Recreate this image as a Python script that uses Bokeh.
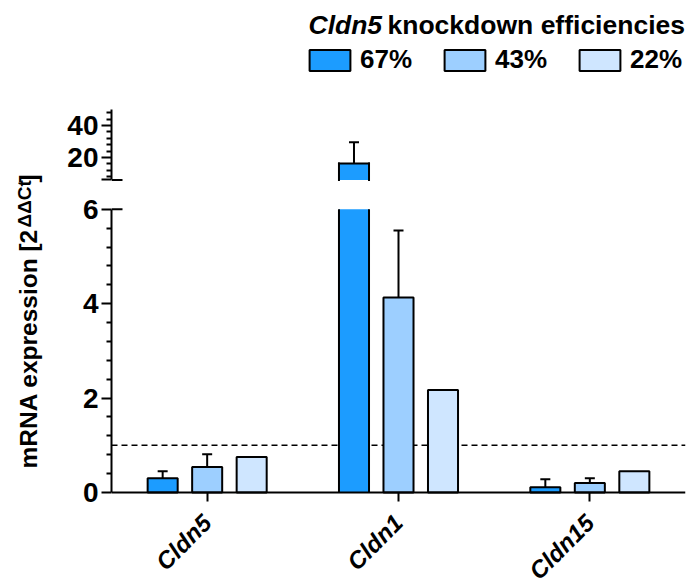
from math import pi
from bokeh.plotting import figure
from bokeh.models import (ColumnDataSource, FactorRange, Range1d, FixedTicker,
                          Span, Label, Legend, LegendItem)
from bokeh.transform import dodge
from bokeh.layouts import row, column
from bokeh.embed import file_html
from bokeh.resources import INLINE

# ---------------- data ----------------
genes = ["Cldn5", "Cldn1", "Cldn15"]
series = ["67%", "43%", "22%"]
kd67 = [0.30, 16.3, 0.11]
kd67_err = [0.15, 13.2, 0.17]
kd43 = [0.54, 4.13, 0.20]
kd43_err = [0.27, 1.42, 0.10]
kd22 = [0.75, 2.17, 0.45]
kd22_err = None
reference_level = 1.0
lower_ticks = [0, 2, 4, 6]
lower_minor = [0.4, 0.8, 1.2, 1.6, 2.4, 2.8, 3.2, 3.6, 4.4, 4.8, 5.2, 5.6]
upper_ticks = [6, 20, 40]
upper_minor = [8, 12, 16, 24, 28, 32, 36, 44, 48]
break_value = 6
upper_top = 50
title_italic = "Cldn5"
title_rest = "knockdown efficiencies"
ylabel_main = "mRNA expression [2"
ylabel_sup = "ΔΔCt"
ylabel_end = "]"

# ---------------- style ----------------
FONT = "Liberation Sans"
fills = ["#1C9CFF", "#9DCFFF", "#CFE6FF"]
offsets = [-0.2326, 0.0, 0.2326]
bar_w = 0.157
W = 644
UP_LO, UP_HI = -3.75, 118.125     # upper panel y range (frame = whole canvas)
LO_LO, LO_HI = -1.970, 6.292      # lower panel y range (frame = whole canvas)
LINE = dict(line_color="black", line_width=2)

xr = FactorRange(factors=genes)

common = dict(width=W, x_range=xr, output_backend="svg", toolbar_location=None,
              min_border_left=66, min_border_right=4, min_border_top=0,
              min_border_bottom=0,
              outline_line_color=None, background_fill_color="white",
              border_fill_color="white")

up = figure(height=195, y_range=Range1d(UP_LO, UP_HI), x_axis_location=None, **common)
lo = figure(height=390, y_range=Range1d(LO_LO, LO_HI), **common)

lo.add_layout(Span(location=reference_level, dimension="width", line_color="black",
                   line_width=1.6, line_dash="6 4", level="underlay"))


def whiskers(f, src, xc):
    f.segment(x0=xc, y0="top", x1=xc, y1="upper", source=src, **LINE)
    f.scatter(x=xc, y="upper", source=src, marker="dash", size=10, **LINE)


all_series = [(kd67, kd67_err), (kd43, kd43_err), (kd22, kd22_err)]
legend_renderers = []
for i, (vals, errs) in enumerate(all_series):
    off = offsets[i]
    xc = dodge("gene", off, range=xr)
    xl = dodge("gene", off - bar_w / 2, range=xr)
    xrt = dodge("gene", off + bar_w / 2, range=xr)
    ups = [v + e for v, e in zip(vals, errs)] if errs is not None else None
    tall = [v > break_value for v in vals]

    def pick(seq, flag):
        return [s for s, t in zip(seq, tall) if t == flag]

    # bars that fit below the break: drawn whole in the lower panel
    s_fit = ColumnDataSource(dict(gene=pick(genes, False), top=pick(vals, False)))
    lo.vbar(x=xc, top="top", bottom=0, width=bar_w, source=s_fit,
            fill_color=fills[i], **LINE)
    if ups is not None:
        s_fit.data["upper"] = pick(ups, False)
        whiskers(lo, s_fit, xc)

    # bars that cross the break: open-ended in both panels
    s_cut = ColumnDataSource(dict(gene=pick(genes, True), top=pick(vals, True)))
    lo.vbar(x=xc, top=break_value, bottom=0, width=bar_w, source=s_cut,
            fill_color=fills[i], line_color=None)
    for xe in (xl, xrt):
        lo.segment(x0=xe, y0=0, x1=xe, y1=break_value, source=s_cut, **LINE)
    up.vbar(x=xc, top="top", bottom=break_value, width=bar_w, source=s_cut,
            fill_color=fills[i], line_color=None)
    for xe in (xl, xrt):
        up.segment(x0=xe, y0=break_value, x1=xe, y1="top", source=s_cut,
                   line_cap="square", **LINE)
    up.segment(x0=xl, y0="top", x1=xrt, y1="top", source=s_cut, line_cap="square", **LINE)
    if ups is not None:
        s_cut.data["upper"] = pick(ups, True)
        whiskers(up, s_cut, xc)

    # legend swatch: full series, not drawn in the panel itself
    sw = up.vbar(x=xc, top="top", bottom=0, width=bar_w,
                 source=ColumnDataSource(dict(gene=genes, top=vals)),
                 fill_color=fills[i], **LINE)
    sw.visible = False
    legend_renderers.append(sw)

for f in (up, lo):
    # inner half of the axis-break tick
    f.segment(x0=[(genes[0], -0.5)], x1=[(genes[0], -0.5 + 11 / 191.33)],
              y0=[break_value], y1=[break_value], **LINE)
    f.grid.visible = False
    ax = f.yaxis[0]
    ax.axis_line_width = 2
    ax.major_tick_line_width = 2
    ax.minor_tick_line_width = 2
    ax.major_tick_out = 10
    ax.major_tick_in = 0
    ax.minor_tick_out = 5
    ax.minor_tick_in = 0
    ax.major_label_text_font = FONT
    ax.major_label_text_font_size = "28px"
    ax.major_label_text_font_style = "bold"
    ax.major_label_text_color = "black"
    ax.major_label_standoff = 3

up.yaxis.ticker = FixedTicker(ticks=upper_ticks, minor_ticks=upper_minor)
up.yaxis.major_label_overrides = {6: ""}
up.yaxis.bounds = (break_value, upper_top)

lo.yaxis.ticker = FixedTicker(ticks=lower_ticks, minor_ticks=lower_minor)
lo.yaxis.bounds = (0, break_value)

xa = lo.xaxis[0]
xa.fixed_location = 0
xa.axis_line_width = 2
xa.major_tick_line_width = 2
xa.major_tick_out = 9
xa.major_tick_in = 0
xa.minor_tick_out = 0
xa.major_label_orientation = pi / 4
xa.major_label_text_font = FONT
xa.major_label_text_font_size = "24px"
xa.major_label_text_font_style = "bold italic"
xa.major_label_text_color = "black"
xa.major_label_standoff = 17

# legend + title (inside the upper frame, above the axis)
legend = Legend(items=[LegendItem(label=s, renderers=[r]) for s, r in zip(series, legend_renderers)],
                orientation="horizontal", location=(193, 120),
                glyph_width=51, glyph_height=26, label_standoff=5, spacing=27,
                padding=0, margin=0, border_line_color=None, background_fill_alpha=0,
                inactive_fill_alpha=0,
                label_text_font=FONT, label_text_font_size="26px",
                label_text_font_style="bold", label_text_color="black")
up.add_layout(legend)
up.add_layout(Label(x=197, y=171, x_units="screen", y_units="screen", text=title_italic,
                    text_font=FONT, text_font_size="26.5px", text_font_style="bold italic",
                    text_baseline="alphabetic", text_align="left", text_color="black"))
up.add_layout(Label(x=276, y=171, x_units="screen", y_units="screen", text=title_rest,
                    text_font=FONT, text_font_size="26.5px", text_font_style="bold",
                    text_baseline="alphabetic", text_align="left", text_color="black"))

# y-axis label column
lab = figure(width=45, height=585, x_range=(0, 1), y_range=(0, 1), output_backend="svg",
             toolbar_location=None, x_axis_location=None, y_axis_location=None,
             min_border=0, outline_line_color=None)
lab.grid.visible = False
lab.add_layout(Label(x=27.5, y=117, x_units="screen", y_units="screen", angle=pi / 2,
                     text=ylabel_main, text_font=FONT, text_font_size="24.5px",
                     text_font_style="bold", text_baseline="alphabetic", text_align="left",
                     text_color="black"))
lab.add_layout(Label(x=24, y=358, x_units="screen", y_units="screen", angle=pi / 2,
                     text=ylabel_sup, text_font=FONT, text_font_size="19px",
                     text_font_style="bold", text_baseline="alphabetic", text_align="left",
                     text_color="black"))
lab.add_layout(Label(x=27.5, y=403, x_units="screen", y_units="screen", angle=pi / 2,
                     text=ylabel_end, text_font=FONT, text_font_size="24.5px",
                     text_font_style="bold", text_baseline="alphabetic", text_align="left",
                     text_color="black"))

layout = row(lab, column(up, lo))
open("out.html", "w").write(file_html(layout, INLINE))
